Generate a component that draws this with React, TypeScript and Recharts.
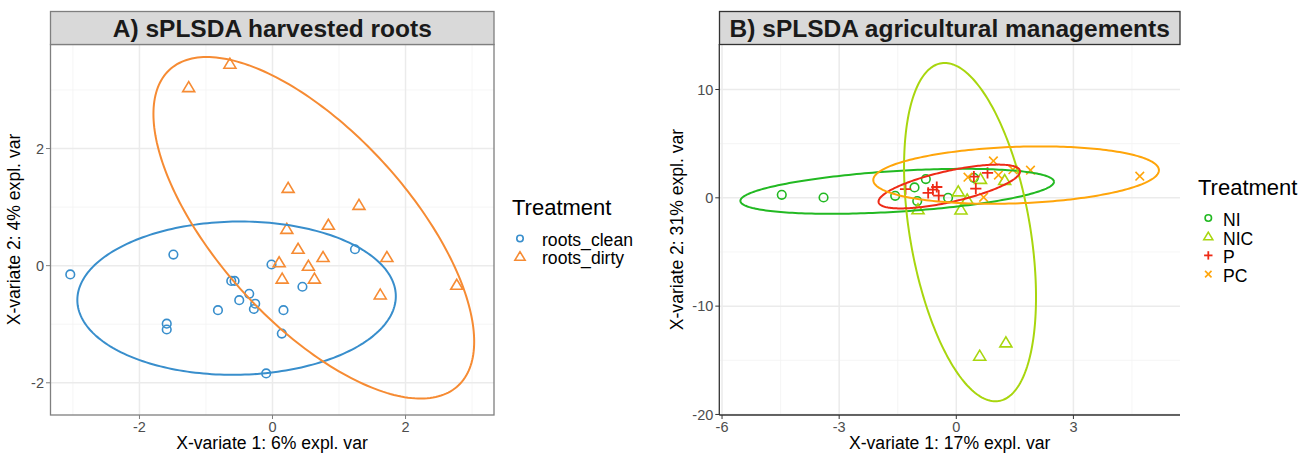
import React from 'react';
import { ScatterChart, Scatter, XAxis, YAxis, CartesianGrid } from 'recharts';

const FONT = '"Liberation Sans", Arial, Helvetica, sans-serif';

type Pt = { x: number; y: number };
// Confidence ellipse: centre plus two conjugate semi-axis vectors (data units)
type Ell = { cx: number; cy: number; ux: number; uy: number; vx: number; vy: number };

// ---------- Panel A: harvested roots ----------
const rootsClean: Pt[] = [
  { x: -3.04, y: -0.15 }, { x: -1.49, y: 0.19 }, { x: -0.015, y: 0.02 }, { x: 1.24, y: 0.28 },
  { x: -0.62, y: -0.26 }, { x: -0.57, y: -0.26 }, { x: -0.35, y: -0.48 }, { x: -0.5, y: -0.59 },
  { x: -0.26, y: -0.65 }, { x: -0.28, y: -0.74 }, { x: -0.82, y: -0.76 }, { x: 0.165, y: -0.76 },
  { x: 0.45, y: -0.36 }, { x: -1.59, y: -0.99 }, { x: -1.59, y: -1.09 }, { x: 0.14, y: -1.16 },
  { x: -0.095, y: -1.84 },
];
const rootsDirty: Pt[] = [
  { x: -0.64, y: 3.44 }, { x: -1.26, y: 3.04 }, { x: 0.235, y: 1.32 }, { x: 1.3, y: 1.03 },
  { x: 0.84, y: 0.69 }, { x: 0.215, y: 0.62 }, { x: 0.385, y: 0.28 }, { x: 0.1, y: 0.05 },
  { x: 0.76, y: 0.14 }, { x: 1.72, y: 0.14 }, { x: 0.54, y: -0.01 }, { x: 0.145, y: -0.23 },
  { x: 0.63, y: -0.23 }, { x: 1.62, y: -0.5 }, { x: 2.77, y: -0.335 },
];
const ellRootsClean: Ell = { cx: -0.54, cy: -0.555, ux: 2.394, uy: 0.032, vx: 0, vy: 1.3085 };
const ellRootsDirty: Ell = { cx: 0.621, cy: 0.647, ux: 2.411, uy: -1.943, vx: 0, vy: 2.174 };

const aXTicks = [-2, 0, 2];
const aXMinor = [-3, -1, 1, 3];
const aYTicks = [-2, 0, 2];
const aYMinor = [-1, 1, 3];

// ---------- Panel B: agricultural managements ----------
const groupNI: Pt[] = [
  { x: -4.47, y: 0.28 }, { x: -3.4, y: 0.03 }, { x: -1.565, y: 0.18 }, { x: -1.07, y: 0.96 },
  { x: -0.78, y: 1.73 }, { x: -1.0, y: -0.3 }, { x: -0.21, y: 0.0 }, { x: 0.45, y: 1.85 },
];
const groupNIC: Pt[] = [
  { x: 0.05, y: 0.55 }, { x: 0.12, y: -1.12 }, { x: 0.28, y: -0.2 }, { x: 0.62, y: 1.7 },
  { x: 1.24, y: 1.6 }, { x: -0.98, y: -1.1 }, { x: 0.6, y: -14.62 }, { x: 1.27, y: -13.39 },
];
const groupP: Pt[] = [
  { x: -1.3, y: 0.8 }, { x: -0.72, y: 0.45 }, { x: -0.6, y: 0.75 }, { x: -0.5, y: 1.0 },
  { x: -0.45, y: 0.2 }, { x: 0.45, y: 1.95 }, { x: 0.5, y: 0.85 }, { x: 0.8, y: 2.3 },
];
const groupPC: Pt[] = [
  { x: 0.95, y: 3.4 }, { x: 0.3, y: 1.9 }, { x: 1.08, y: 2.1 }, { x: 1.45, y: 2.6 },
  { x: 1.9, y: 2.55 }, { x: 4.7, y: 2.0 }, { x: 0.7, y: 0.05 },
];
const ellNI: Ell = { cx: -1.514, cy: 0.6, ux: 4.016, uy: 0.8805, vx: 0, vy: 1.881 };
const ellNIC: Ell = { cx: 0.352, cy: -3.167, ux: 1.69, uy: -5.998, vx: 0, vy: 14.42 };
const ellP: Ell = { cx: -0.179, cy: 1.043, ux: 1.8126, uy: 1.3914, vx: 0, vy: 1.4684 };
const ellPC: Ell = { cx: 1.532, cy: 2.096, ux: 3.658, uy: 0.451, vx: 0, vy: 2.612 };

const bXTicks = [-6, -3, 0, 3];
const bXMinor = [-4.5, -1.5, 1.5, 4.5];
const bYTicks = [-20, -10, 0, 10];
const bYMinor = [-15, -5, 5];

const BLUE = '#388ECC';
const ORANGE = '#F68B33';
const C_NI = '#22B922';
const C_NIC = '#A8D60E';
const C_P = '#EE2A16';
const C_PC = '#FFA50A';

function outline(e: Ell, n = 240): Pt[] {
  const pts: Pt[] = [];
  for (let i = 0; i <= n; i++) {
    const t = (2 * Math.PI * i) / n;
    const c = Math.cos(t);
    const s = Math.sin(t);
    pts.push({ x: e.cx + e.ux * c + e.vx * s, y: e.cy + e.uy * c + e.vy * s });
  }
  return pts;
}

type Kind = 'circle' | 'triangle' | 'plus' | 'cross';

function Glyph({ kind, color, cx, cy, s = 1 }: { kind: Kind; color: string; cx: number; cy: number; s?: number }) {
  const sw = 1.6;
  if (kind === 'circle') return <circle cx={cx} cy={cy} r={4.3 * s} fill="none" stroke={color} strokeWidth={sw} />;
  if (kind === 'triangle') {
    const p = `${cx},${cy - 6 * s} ${cx - 6 * s},${cy + 4 * s} ${cx + 6 * s},${cy + 4 * s}`;
    return <polygon points={p} fill="none" stroke={color} strokeWidth={sw} strokeLinejoin="miter" />;
  }
  if (kind === 'plus') {
    const h = 5.6 * s;
    return (
      <g stroke={color} strokeWidth={1.8}>
        <line x1={cx - h} y1={cy} x2={cx + h} y2={cy} />
        <line x1={cx} y1={cy - h} x2={cx} y2={cy + h} />
      </g>
    );
  }
  const d = 4.3 * s;
  return (
    <g stroke={color} strokeWidth={1.6}>
      <line x1={cx - d} y1={cy - d} x2={cx + d} y2={cy + d} />
      <line x1={cx - d} y1={cy + d} x2={cx + d} y2={cy - d} />
    </g>
  );
}

const marker = (kind: Kind, color: string) => (props: any) => {
  const { cx, cy } = props;
  if (cx == null || cy == null) return <g />;
  return <Glyph kind={kind} color={color} cx={cx} cy={cy} />;
};

const noDot = () => <g />;

type Series = { data: Pt[]; ell: Ell; kind: Kind; color: string };

type PanelProps = {
  left: number;
  width: number;
  yAxisWidth: number;
  rightMargin: number;
  xDomain: [number, number];
  yDomain: [number, number];
  xTicks: number[];
  xMinor: number[];
  yTicks: number[];
  yMinor: number[];
  series: Series[];
  axisLine: any;
  tickColor: string;
};

function Panel(p: PanelProps) {
  const tickStyle = { fill: '#4D4D4D', fontSize: 14.5, fontFamily: FONT };
  return (
    <div style={{ position: 'absolute', left: p.left, top: 0 }}>
      <ScatterChart
        width={p.width}
        height={453}
        margin={{ top: 44, right: p.rightMargin, bottom: 0, left: 0 }}
      >
        <CartesianGrid verticalValues={p.xMinor} horizontalValues={p.yMinor} stroke="#F2F2F2" strokeWidth={0.8} />
        <CartesianGrid verticalValues={p.xTicks} horizontalValues={p.yTicks} stroke="#EBEBEB" strokeWidth={1.5} />
        <XAxis
          type="number"
          dataKey="x"
          domain={p.xDomain}
          allowDataOverflow
          ticks={p.xTicks}
          height={38}
          tickSize={4}
          tickMargin={3}
          tick={tickStyle}
          tickLine={{ stroke: p.tickColor }}
          axisLine={p.axisLine}
        />
        <YAxis
          type="number"
          dataKey="y"
          domain={p.yDomain}
          allowDataOverflow
          ticks={p.yTicks}
          width={p.yAxisWidth}
          tickSize={4}
          tickMargin={2}
          tick={tickStyle}
          tickLine={{ stroke: p.tickColor }}
          axisLine={p.axisLine}
        />
        {p.series.map((s, i) => (
          <Scatter key={'pts' + i} data={s.data} shape={marker(s.kind, s.color)} isAnimationActive={false} />
        ))}
        {p.series.map((s, i) => (
          <Scatter
            key={'ell' + i}
            data={outline(s.ell)}
            shape={noDot}
            line={{ stroke: s.color, strokeWidth: 2 }}
            lineType="joint"
            isAnimationActive={false}
          />
        ))}
      </ScatterChart>
    </div>
  );
}

export default function App() {
  const seriesA: Series[] = [
    { data: rootsClean, ell: ellRootsClean, kind: 'circle', color: BLUE },
    { data: rootsDirty, ell: ellRootsDirty, kind: 'triangle', color: ORANGE },
  ];
  const seriesB: Series[] = [
    { data: groupNI, ell: ellNI, kind: 'circle', color: C_NI },
    { data: groupNIC, ell: ellNIC, kind: 'triangle', color: C_NIC },
    { data: groupP, ell: ellP, kind: 'plus', color: C_P },
    { data: groupPC, ell: ellPC, kind: 'cross', color: C_PC },
  ];
  const legendB: { label: string; kind: Kind; color: string }[] = [
    { label: 'NI', kind: 'circle', color: C_NI },
    { label: 'NIC', kind: 'triangle', color: C_NIC },
    { label: 'P', kind: 'plus', color: C_P },
    { label: 'PC', kind: 'cross', color: C_PC },
  ];
  return (
    <div style={{ position: 'absolute', left: 0, top: 0, width: 1304, height: 453, background: '#fff', fontFamily: FONT }}>
      <Panel
        left={0}
        width={500}
        yAxisWidth={50}
        rightMargin={6}
        xDomain={[-3.345, 3.33]}
        yDomain={[-2.55, 3.785]}
        xTicks={aXTicks}
        xMinor={aXMinor}
        yTicks={aYTicks}
        yMinor={aYMinor}
        series={seriesA}
        axisLine={false}
        tickColor="#7F7F7F"
      />
      <Panel
        left={660}
        width={525}
        yAxisWidth={59.3}
        rightMargin={5}
        xDomain={[-6.07, 5.73]}
        yDomain={[-20.05, 14.2]}
        xTicks={bXTicks}
        xMinor={bXMinor}
        yTicks={bYTicks}
        yMinor={bYMinor}
        series={seriesB}
        axisLine={{ stroke: '#333333', strokeWidth: 1.3 }}
        tickColor="#333333"
      />
      <svg width={1304} height={453} style={{ position: 'absolute', left: 0, top: 0, pointerEvents: 'none' }}>
        {/* panel A frame and strip */}
        <rect x={50.5} y={44.5} width={443.5} height={370.5} fill="none" stroke="#7F7F7F" strokeWidth={1.3} />
        <rect x={50.5} y={11.5} width={443.5} height={33} fill="#D9D9D9" stroke="#7F7F7F" strokeWidth={1.3} />
        <text x={272.3} y={28} textAnchor="middle" dy="0.36em" fontSize={24.5} fontWeight="bold" fill="#1A1A1A" fontFamily={FONT}>
          A) sPLSDA harvested roots
        </text>
        <text x={272} y={443} textAnchor="middle" dy="0.36em" fontSize={17.6} fill="#000" fontFamily={FONT}>
          X-variate 1: 6% expl. var
        </text>
        <text x={14} y={229.5} textAnchor="middle" dy="0.36em" fontSize={17.6} fill="#000" fontFamily={FONT} transform="rotate(-90 14 229.5)">
          X-variate 2: 4% expl. var
        </text>
        {/* panel A legend */}
        <text x={512} y={207} dy="0.36em" fontSize={22} fill="#000" fontFamily={FONT}>Treatment</text>
        <Glyph kind="circle" color={BLUE} cx={520} cy={238.5} s={0.75} />
        <text x={542} y={239.5} dy="0.36em" fontSize={17.6} fill="#000" fontFamily={FONT}>roots_clean</text>
        <Glyph kind="triangle" color={ORANGE} cx={520} cy={256.8} s={0.85} />
        <text x={542} y={258} dy="0.36em" fontSize={17.6} fill="#000" fontFamily={FONT}>roots_dirty</text>

        {/* panel B strip */}
        <rect x={719.5} y={11.5} width={460.5} height={33} fill="#D9D9D9" stroke="#333333" strokeWidth={1.3} />
        <text x={949.7} y={28} textAnchor="middle" dy="0.36em" fontSize={24.5} fontWeight="bold" fill="#1A1A1A" fontFamily={FONT}>
          B) sPLSDA agricultural managements
        </text>
        <text x={949.7} y={443} textAnchor="middle" dy="0.36em" fontSize={17.6} fill="#000" fontFamily={FONT}>
          X-variate 1: 17% expl. var
        </text>
        <text x={677} y={229.5} textAnchor="middle" dy="0.36em" fontSize={17.6} fill="#000" fontFamily={FONT} transform="rotate(-90 677 229.5)">
          X-variate 2: 31% expl. var
        </text>
        {/* panel B legend */}
        <text x={1198} y={187} dy="0.36em" fontSize={22} fill="#000" fontFamily={FONT}>Treatment</text>
        {legendB.map((l, i) => (
          <g key={l.label}>
            <Glyph kind={l.kind} color={l.color} cx={1208.3} cy={218 + i * 18.7} s={0.75} />
            <text x={1223} y={219.5 + i * 18.7} dy="0.36em" fontSize={17.6} fill="#000" fontFamily={FONT}>{l.label}</text>
          </g>
        ))}
      </svg>
    </div>
  );
}
